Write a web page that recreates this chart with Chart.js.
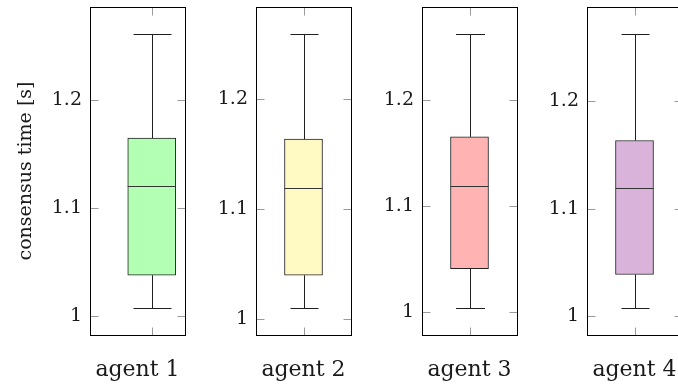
<!DOCTYPE html>
<html>
<head>
<meta charset="utf-8">
<script src="https://cdn.jsdelivr.net/npm/chart.js@4.4.1/dist/chart.umd.min.js"></script>
<style>
  html, body { margin: 0; padding: 0; background: #fff; overflow: hidden; }
  body { width: 678px; height: 389px; position: relative; }
  canvas { position: absolute; top: 0; }
</style>
</head>
<body>
<canvas id="box-0" width="190" height="389"></canvas>
<canvas id="box-1" width="190" height="389"></canvas>
<canvas id="box-2" width="190" height="389"></canvas>
<canvas id="box-3" width="190" height="389"></canvas>
<script>
// values (seconds)
const AGENTS = ['agent 1', 'agent 2', 'agent 3', 'agent 4'];
const LOWER_WHISKER = [1.008, 1.010, 1.0035, 1.0075];
const Q1 = [1.038, 1.040, 1.0405, 1.0387];
const MEDIAN = [1.120, 1.1196, 1.119, 1.1192];
const Q3 = [1.1646, 1.1636, 1.165, 1.1636];
const UPPER_WHISKER = [1.2603, 1.2587, 1.2617, 1.2625];
const Y_TICKS = [1, 1.1, 1.2];

// axis ranges per panel
const Y_MIN = [0.9828, 0.9857, 0.978, 0.9823];
const Y_MAX = [1.2856, 1.2836, 1.2876, 1.288];
const X_MIN = [0.35, 0.5, 0.5, 0.5];
const X_MAX = [1.35, 1.5, 1.5, 1.5];
const BOX_POSITION = 1;

// styling
const FILLS = ['#b3ffb3', '#fff9c4', '#ffb3b3', '#d9b3d9'];
const CANVAS_LEFT = [0, 166, 332, 497];
const BOX_PX = [48, 38, 38, 38];
const CAP_PX = [38, 28, 29, 28];
const TICK_LEN = 8;
const TICK_COLOR = '#9a9a9a';
const LINE_COLOR = '#1f1f1f';

Chart.defaults.font.family = '"DejaVu Serif", serif';
Chart.defaults.color = '#1a1a1a';

const boxPlotDecor = {
  id: 'boxPlotDecor',
  afterDatasetsDraw(chart, args, opts) {
    const { ctx, chartArea: area, scales: { x, y } } = chart;
    const i = opts.panel;
    const px = (v) => Math.round(v) + 0.5;
    const left = px(area.left);
    const right = px(area.right);
    const top = px(area.top);
    const bottom = px(area.bottom);
    const xx = px(x.getPixelForValue(BOX_POSITION));

    ctx.save();
    ctx.lineWidth = 1;

    // pgfplots style ticks, pointing inwards on every side
    ctx.strokeStyle = TICK_COLOR;
    ctx.beginPath();
    Y_TICKS.forEach((v) => {
      const yy = px(y.getPixelForValue(v));
      ctx.moveTo(left, yy); ctx.lineTo(left + TICK_LEN, yy);
      ctx.moveTo(right, yy); ctx.lineTo(right - TICK_LEN, yy);
    });
    ctx.moveTo(xx, bottom); ctx.lineTo(xx, bottom - TICK_LEN);
    ctx.moveTo(xx, top); ctx.lineTo(xx, top + TICK_LEN);
    ctx.stroke();

    // whiskers and caps
    const half = CAP_PX[i] / 2;
    const yHi = px(y.getPixelForValue(UPPER_WHISKER[i]));
    const yQ3 = y.getPixelForValue(Q3[i]);
    const yLo = px(y.getPixelForValue(LOWER_WHISKER[i]));
    const yQ1 = y.getPixelForValue(Q1[i]);
    ctx.strokeStyle = LINE_COLOR;
    ctx.beginPath();
    ctx.moveTo(xx, yQ3); ctx.lineTo(xx, yHi);
    ctx.moveTo(xx - half, yHi); ctx.lineTo(xx + half, yHi);
    ctx.moveTo(xx, yQ1); ctx.lineTo(xx, yLo);
    ctx.moveTo(xx - half, yLo); ctx.lineTo(xx + half, yLo);
    ctx.stroke();

    // median across the box
    const bar = chart.getDatasetMeta(0).data[0];
    if (bar) {
      const { x: bx, width } = bar.getProps(['x', 'width'], true);
      const ym = px(y.getPixelForValue(MEDIAN[i]));
      ctx.strokeStyle = '#333';
      ctx.beginPath();
      ctx.moveTo(bx - width / 2, ym); ctx.lineTo(bx + width / 2, ym);
      ctx.stroke();
    }

    // axis frame
    ctx.strokeStyle = '#000';
    ctx.strokeRect(left, top, right - left, bottom - top);
    ctx.restore();
  }
};

function noScalePadding(scale) {
  scale.paddingTop = 0;
  scale.paddingBottom = 0;
  scale.paddingLeft = 0;
  scale.paddingRight = 0;
}

function buildPanel(i) {
  const canvas = document.getElementById(`box-${i}`);
  canvas.style.left = `${CANVAS_LEFT[i]}px`;

  return new Chart(canvas, {
    type: 'bar',
    data: {
      datasets: [{
        data: [{ x: BOX_POSITION, y: [Q1[i], Q3[i]] }],
        backgroundColor: FILLS[i],
        borderColor: '#222',
        borderWidth: 1,
        borderSkipped: false,
        barThickness: BOX_PX[i],
        grouped: false
      }]
    },
    options: {
      responsive: false,
      animation: false,
      events: [],
      layout: { autoPadding: false, padding: { top: 7, right: 5, bottom: 0, left: 0 } },
      scales: {
        x: {
          type: 'linear',
          min: X_MIN[i],
          max: X_MAX[i],
          offset: false,
          grid: { display: false, drawTicks: false },
          border: { display: false },
          ticks: { display: false },
          title: {
            display: true,
            text: AGENTS[i],
            font: { size: 22 },
            padding: { top: 0, bottom: 6 }
          },
          afterFit: (scale) => {
            scale.height = 54;
            noScalePadding(scale);
          }
        },
        y: {
          type: 'linear',
          min: Y_MIN[i],
          max: Y_MAX[i],
          grid: { display: false, drawTicks: false },
          border: { display: false },
          ticks: {
            padding: 8,
            font: { size: 19 },
            callback: (value) => String(value)
          },
          afterBuildTicks: (scale) => {
            scale.ticks = Y_TICKS.map(value => ({ value }));
          },
          title: {
            display: i === 0,
            text: 'consensus time [s]',
            font: { size: 19 },
            padding: { top: 15, bottom: 0 }
          },
          afterFit: (scale) => {
            scale.width = 90;
            noScalePadding(scale);
          }
        }
      },
      plugins: {
        legend: { display: false },
        tooltip: { enabled: false },
        boxPlotDecor: { panel: i }
      }
    },
    plugins: [boxPlotDecor]
  });
}

AGENTS.forEach((_, i) => buildPanel(i));
</script>
</body>
</html>
